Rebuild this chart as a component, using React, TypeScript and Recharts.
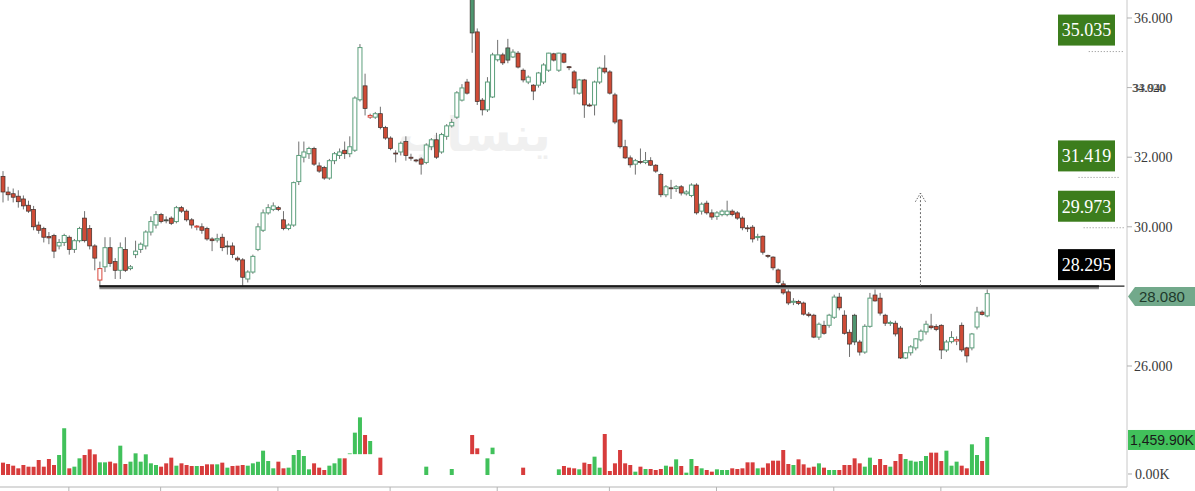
import React from "react";
import { Bar, Cell, ComposedChart, ReferenceLine, XAxis, YAxis } from "recharts";

// OHLC, one entry per session
const opens = [
  31.45, 31.0, 30.95, 30.88, 30.8, 30.62, 30.5, 30.05, 29.95, 29.72,
  29.75, 29.45, 29.55, 29.7, 29.35, 29.6, 30.25, 29.95, 29.45, 28.47,
  28.85, 29.4, 29.0, 28.75, 29.35, 28.8, 29.2, 29.35, 29.45, 29.85,
  30.05, 30.35, 30.2, 30.25, 30.15, 30.55, 30.45, 30.2, 30.0, 30.0,
  29.95, 29.65, 29.62, 29.7, 29.45, 29.45, 29.1, 29.05, 28.5, 28.7,
  29.35, 29.9, 30.4, 30.5, 30.55, 30.2, 29.95, 30.05, 31.3, 32.0,
  32.1, 32.25, 31.75, 31.7, 31.4, 31.9, 32.05, 32.2, 32.1, 32.2,
  33.65, 34.05, 33.15, 33.15, 33.25, 32.85, 32.55, 32.12, 32.15, 32.45,
  32.0, 31.92, 31.95, 31.85, 32.3, 32.5, 32.15, 32.6, 32.9, 33.15,
  33.64, 34.16, 36.7, 35.6, 33.64, 33.36, 33.73, 34.8, 34.94, 35.14,
  34.88, 34.99, 34.5, 34.16, 34.07, 34.07, 34.16, 34.5, 34.97, 34.5,
  34.97, 34.6, 34.45, 33.84, 34.22, 33.5, 33.5, 34.16, 34.56, 34.45,
  33.79, 33.07, 32.3, 31.98, 31.8, 31.88, 31.85, 31.9, 31.77, 31.5,
  30.92, 31.12, 31.1, 31.15, 30.95, 30.9, 31.2, 30.45, 30.68, 30.4,
  30.3, 30.35, 30.35, 30.45, 30.4, 30.25, 29.97, 29.99, 29.7, 29.73,
  29.18, 29.13, 28.76, 28.36, 28.13, 27.83, 27.85, 27.81, 27.49, 27.46,
  26.83, 27.17, 27.17, 27.4, 27.98, 27.46, 26.97, 27.46, 26.69, 26.4,
  27.14, 28.04, 27.95, 27.46, 27.23, 27.23, 27.09, 26.23, 26.38, 26.52,
  26.75, 26.98, 27.15, 27.14, 27.17, 26.46, 26.7, 26.72, 27.17, 26.52,
  26.52, 27.12, 27.55, 27.44,
];
const highs = [
  31.6, 31.15, 31.1, 31.05, 30.9, 30.75, 30.6, 30.15, 30.0, 29.85,
  29.8, 29.65, 29.8, 29.75, 29.65, 30.0, 30.45, 30.05, 29.5, 29.0,
  29.7, 29.7, 29.1, 29.55, 29.7, 28.9, 29.6, 29.55, 29.9, 30.3,
  30.45, 30.4, 30.3, 30.3, 30.6, 30.6, 30.5, 30.25, 30.05, 30.1,
  30.0, 29.7, 29.8, 29.8, 29.6, 29.55, 29.15, 29.1, 28.75, 29.2,
  30.1, 30.5, 30.65, 30.7, 30.6, 30.45, 30.1, 31.3, 32.45, 32.45,
  32.3, 32.3, 31.85, 31.75, 31.95, 32.15, 32.25, 32.45, 32.6, 33.75,
  35.25, 34.4, 33.25, 33.3, 33.45, 32.9, 32.6, 32.2, 32.45, 32.6,
  32.1, 31.95, 32.0, 32.4, 32.55, 32.7, 32.7, 32.95, 33.1, 33.9,
  34.1, 34.25, 36.8, 35.7, 33.7, 34.3, 35.0, 35.37, 35.0, 35.4,
  35.1, 35.05, 34.55, 34.35, 34.1, 34.45, 34.7, 35.0, 35.0, 35.0,
  35.0, 34.62, 34.5, 34.25, 34.25, 33.55, 34.2, 34.6, 34.93, 34.5,
  33.85, 33.1, 32.5, 32.05, 31.95, 32.25, 32.15, 32.0, 31.8, 31.55,
  31.2, 31.35, 31.2, 31.2, 31.05, 31.25, 31.25, 30.7, 30.75, 30.5,
  30.45, 30.5, 30.75, 30.5, 30.45, 30.3, 30.05, 30.05, 29.8, 29.75,
  29.2, 29.15, 28.8, 28.45, 28.2, 27.95, 27.9, 27.85, 27.55, 27.5,
  27.25, 27.3, 27.5, 28.05, 28.1, 27.6, 27.05, 27.5, 26.75, 27.2,
  28.1, 28.2, 28.1, 27.5, 27.3, 27.3, 27.15, 26.4, 26.6, 26.8,
  27.05, 27.3, 27.5, 27.2, 27.2, 26.75, 27.0, 26.85, 27.25, 26.55,
  26.95, 27.7, 27.6, 28.2,
];
const lows = [
  30.7, 30.75, 30.7, 30.55, 30.5, 30.4, 29.9, 29.8, 29.55, 29.5,
  29.1, 29.35, 29.45, 29.2, 29.25, 29.55, 29.55, 29.35, 28.75, 28.3,
  28.7, 28.85, 28.5, 28.5, 28.7, 28.75, 29.1, 29.25, 29.35, 29.75,
  29.95, 30.1, 30.1, 30.05, 30.1, 30.4, 30.15, 29.95, 29.9, 29.8,
  29.6, 29.3, 29.55, 29.3, 29.2, 29.1, 29.0, 28.25, 28.4, 28.65,
  29.3, 29.85, 30.35, 30.45, 30.45, 29.9, 29.9, 30.0, 31.2, 31.85,
  31.95, 31.75, 31.55, 31.35, 31.35, 31.8, 31.95, 31.95, 32.0, 32.15,
  33.6, 33.2, 33.1, 33.1, 32.8, 32.5, 32.2, 31.85, 32.05, 31.9,
  31.9, 31.85, 31.5, 31.8, 32.2, 31.95, 32.1, 32.5, 32.85, 33.1,
  33.6, 33.8, 35.0, 33.5, 33.2, 33.3, 33.7, 34.75, 34.65, 34.7,
  34.85, 34.55, 34.15, 34.1, 33.64, 34.0, 34.1, 34.45, 34.75, 34.45,
  34.7, 34.5, 33.8, 33.8, 33.13, 33.45, 33.2, 34.1, 34.4, 33.8,
  32.95, 32.25, 31.95, 31.7, 31.5, 31.8, 31.8, 31.75, 31.55, 30.85,
  30.85, 30.8, 31.0, 30.9, 30.9, 30.85, 30.35, 30.35, 30.35, 30.2,
  30.2, 30.3, 30.3, 30.3, 30.2, 29.9, 29.85, 29.55, 29.6, 29.2,
  29.1, 28.75, 28.35, 28.05, 27.75, 27.75, 27.75, 27.45, 27.4, 26.8,
  26.75, 26.9, 27.1, 27.35, 27.6, 26.9, 26.26, 26.6, 26.3, 26.35,
  27.1, 27.85, 27.45, 27.15, 27.15, 26.85, 26.2, 26.2, 26.3, 26.45,
  26.7, 26.9, 27.05, 27.0, 26.2, 26.4, 26.65, 26.6, 26.4, 26.1,
  26.45, 27.05, 27.45, 27.4,
];
const closes = [
  31.0, 30.92, 30.85, 30.72, 30.6, 30.45, 30.0, 29.9, 29.7, 29.68,
  29.3, 29.55, 29.75, 29.35, 29.6, 29.95, 29.6, 29.45, 29.1, 28.8,
  29.4, 28.95, 28.75, 29.4, 28.75, 28.85, 29.3, 29.5, 29.85, 30.15,
  30.35, 30.15, 30.17, 30.1, 30.55, 30.45, 30.2, 30.05, 30.02, 29.9,
  29.65, 29.6, 29.66, 29.4, 29.45, 29.2, 29.05, 28.55, 28.7, 29.15,
  30.0, 30.4, 30.55, 30.6, 30.5, 29.95, 30.05, 31.27, 32.05, 32.15,
  32.25, 31.8, 31.6, 31.4, 31.9, 32.1, 32.15, 32.1, 32.3, 33.7,
  35.15, 33.4, 33.2, 33.25, 32.85, 32.55, 32.25, 32.1, 32.4, 32.05,
  31.97, 31.9, 31.8, 32.35, 32.5, 32.0, 32.65, 32.9, 33.0, 33.85,
  33.99, 33.84, 35.57, 33.6, 33.36, 34.16, 34.94, 34.94, 34.71, 34.79,
  35.02, 34.59, 34.22, 34.3, 33.9, 34.42, 34.65, 34.99, 34.79, 34.99,
  34.73, 34.59, 33.99, 34.22, 33.5, 33.48, 34.16, 34.56, 34.45, 33.84,
  33.01, 32.3, 31.98, 31.78, 31.9, 31.86, 31.9, 31.77, 31.6, 30.92,
  31.15, 31.1, 31.15, 30.97, 31.0, 31.2, 30.4, 30.65, 30.4, 30.28,
  30.4, 30.45, 30.45, 30.35, 30.25, 29.97, 29.95, 29.65, 29.72, 29.27,
  29.16, 28.82, 28.4, 28.1, 27.81, 27.86, 27.8, 27.49, 27.45, 26.83,
  27.2, 26.94, 27.46, 27.98, 27.67, 26.94, 26.63, 26.69, 26.4, 27.14,
  27.95, 27.87, 27.52, 27.23, 27.25, 26.92, 26.23, 26.38, 26.55, 26.78,
  27.0, 27.2, 27.1, 27.05, 26.46, 26.69, 26.82, 26.76, 26.46, 26.29,
  26.92, 27.55, 27.48, 28.08,
];

// volume in thousands (null = no bar drawn)
const volumes: (number | null)[] = [
  474, 422, 358, 256, 384, 320, 320, 576, 320, 614,
  384, 768, 1792, 256, 320, 640, 768, 986, 794, 486,
  486, 512, 448, 1126, 422, 512, 832, 512, 794, 448,
  384, 320, 448, 666, 358, 448, 384, 346, 346, 346,
  410, 410, 410, 474, 282, 346, 358, 384, 358, 448,
  512, 934, 538, 256, 512, 256, 282, 768, 960, 730,
  218, 448, 282, 192, 358, 448, 640, 640, 830, 1626,
  2214, 1536, 1306, null, 666, null, null, null, null, null,
  null, null, null, 320, null, null, null, null, 230, null,
  null, null, 1536, 1024, null, 640, 1050, null, null, null,
  null, null, 282, null, null, null, null, null, null, 218,
  346, 282, 256, 218, 474, 422, 704, 282, 1574, 154,
  448, 960, 448, 384, 128, 320, 230, 230, 192, 230,
  358, 320, 602, 346, 90, 614, 346, 256, 192, 128,
  218, 192, 192, 256, 230, 256, 486, 486, 256, 282,
  448, 550, 550, 960, 422, 384, 602, 410, 282, 320,
  448, 282, 192, 192, 192, 384, 384, 640, 448, 320,
  666, 384, 614, 384, 320, 538, 806, 614, 550, 512,
  538, 730, 858, 858, 538, 934, 358, 512, 358, 256,
  1178, 768, 538, 1459.9,
];
// bars that float above the baseline in the picture
const floatingVol = [68, 69, 70, 71, 72, 92, 93, 96];
const floatBase = 800;

const slots = 221;
const priceTicks = [26, 30, 32, 34, 36];
const dateTickSlots = [13, 31, 54, 76, 97, 119, 140, 163, 184];

const targets = [35.035, 31.419, 29.973];
const targetSpans = [
  [213, 220],
  [211, 219],
  [212, 220],
];
const support = 28.295;
const supportFrom = 19;
const supportTo = 215;
const lastPrice = 28.08;
const lastVolume = 1459.9;
const arrowSlot = 180;
const arrowTop = 30.97;

const GREEN_LINE = "#5c9f7c";
const GREEN_FILL = "#4f9670";
const RED_FILL = "#cf4b36";
const RED_LINE = "#d9463a";
const BODY_EDGE = "#3b2f2c";
const WICK = "#707070";
const VOL_GREEN = "#41c15b";
const VOL_RED = "#d73c3c";
const TAG_GREEN = "#3c7d1d";

const rows = Array.from({ length: slots }, (_, i) => {
  if (i >= closes.length) return { i, hl: null, vol: null };
  const prev = i > 0 ? closes[i - 1] : opens[i];
  const v = volumes[i];
  return {
    i,
    o: opens[i],
    h: highs[i],
    l: lows[i],
    c: closes[i],
    hl: [lows[i], highs[i]],
    up: closes[i] >= prev,
    vol: v == null ? null : [floatingVol.includes(i) ? floatBase : 0, v],
  };
});

function Candle(props: any) {
  const { x, y, width, height, payload } = props;
  if (!payload || payload.h == null) return null;
  const top = Math.min(y, y + height);
  const bot = Math.max(y, y + height);
  const k = (bot - top) / (payload.h - payload.l);
  const yo = top + (payload.h - payload.o) * k;
  const yc = top + (payload.h - payload.c) * k;
  const cx = x + width / 2;
  const hollow = payload.c > payload.o;
  const col = payload.up ? GREEN_LINE : RED_LINE;
  const fill = hollow ? "#ffffff" : payload.up ? GREEN_FILL : RED_FILL;
  const by = Math.min(yo, yc);
  const bh = Math.max(Math.abs(yo - yc), 1);
  return (
    <g>
      <line x1={cx} x2={cx} y1={top} y2={bot} stroke={WICK} strokeWidth={1} />
      <rect
        x={cx - 2}
        y={by}
        width={4}
        height={bh}
        fill={fill}
        stroke={hollow ? col : BODY_EDGE}
        strokeWidth={hollow ? 1 : 0.7}
      />
    </g>
  );
}

function PriceTick(props: any) {
  const { x, y, payload } = props;
  const style = { fontFamily: "'Liberation Serif', serif", fill: "#3a3a3a" };
  if (payload.value === 34) {
    return (
      <g>
        <text x={x - 2} y={y} dy="0.35em" fontSize={12} style={style}>34.020</text>
        <text x={x - 1} y={y} dy="0.35em" fontSize={12} style={style}>33.940</text>
      </g>
    );
  }
  return (
    <text x={x} y={y} dy="0.35em" fontSize={14} style={style}>
      {payload.value.toFixed(3)}
    </text>
  );
}

function Tag(props: any) {
  const { viewBox, text, fill } = props;
  const right = viewBox.x + viewBox.width;
  const ly = viewBox.y;
  return (
    <g>
      <rect x={right - 69} y={ly - 37} width={57} height={31} fill={fill} />
      <text
        x={right - 40.5}
        y={ly - 21.5}
        dy="0.35em"
        textAnchor="middle"
        fontSize={18}
        fill="#ffffff"
        style={{ fontFamily: "'Liberation Serif', serif" }}
      >
        {text}
      </text>
    </g>
  );
}

function LastTag(props: any) {
  const { viewBox } = props;
  const r = viewBox.x + viewBox.width;
  const cy = viewBox.y + 3;
  const pts = `${r + 1},${cy} ${r + 8},${cy - 9.5} ${r + 68},${cy - 9.5} ${r + 68},${cy + 9.5} ${r + 8},${cy + 9.5}`;
  return (
    <g>
      <polygon points={pts} fill="#72a98b" />
      <text x={r + 12} y={cy} dy="0.35em" fontSize={15} fill="#1e3a2b" style={{ fontFamily: "'Liberation Sans', Arial, sans-serif" }}>
        {lastPrice.toFixed(3)}
      </text>
    </g>
  );
}

function VolTag(props: any) {
  const { viewBox } = props;
  const r = viewBox.x + viewBox.width;
  const cy = viewBox.y + 3;
  return (
    <g>
      <rect x={r + 1} y={cy - 10} width={68} height={20} fill={VOL_GREEN} />
      <text x={r + 3} y={cy} dy="0.35em" fontSize={14} fill="#1a1a1a" style={{ fontFamily: "'Liberation Sans', Arial, sans-serif" }}>
        {lastVolume.toLocaleString("en-US", { minimumFractionDigits: 2 })}K
      </text>
    </g>
  );
}

function ZeroTag(props: any) {
  const { viewBox } = props;
  const r = viewBox.x + viewBox.width;
  const cy = viewBox.y - 1;
  return (
    <g>
      <line x1={r + 1} x2={r + 5} y1={cy} y2={cy} stroke="#aaa" />
      <text x={r + 8} y={cy} dy="0.35em" fontSize={14} fill="#3a3a3a" style={{ fontFamily: "'Liberation Serif', serif" }}>
        0.00K
      </text>
    </g>
  );
}

export default function App() {
  return (
    <div style={{ position: "absolute", left: 0, top: 0, width: 1195, height: 491, background: "#fff", overflow: "hidden" }}>
      <div
        dir="rtl"
        style={{
          position: "absolute",
          left: 398,
          top: 100,
          fontSize: 48,
          fontWeight: 700,
          color: "#f0f0f0",
          fontFamily: "'Noto Sans', 'DejaVu Sans', sans-serif",
        }}
      >
        ينساب
      </div>
      <div style={{ position: "absolute", left: 0, top: 0 }}>
        <ComposedChart width={1195} height={491} data={rows} margin={{ top: 0, right: 0, left: 0, bottom: 0 }}>
          <XAxis
            xAxisId="px"
            dataKey="i"
            type="category"
            ticks={dateTickSlots}
            interval={0}
            height={4}
            tickSize={4}
            axisLine={{ stroke: "#b5b5b5" }}
            tickLine={{ stroke: "#b5b5b5" }}
            tick={() => <g />}
          />
          <XAxis xAxisId="vx" dataKey="i" type="category" hide />
          <YAxis
            yAxisId="p"
            orientation="right"
            width={68}
            domain={[22.523, 36.517]}
            allowDataOverflow
            ticks={priceTicks}
            interval={0}
            tickSize={5}
            axisLine={{ stroke: "#c8c8c8" }}
            tickLine={{ stroke: "#b0b0b0" }}
            tick={<PriceTick />}
          />
          <YAxis yAxisId="vol" hide domain={[-461, 18240]} allowDataOverflow />

          <Bar xAxisId="vx" yAxisId="vol" dataKey="vol" barSize={4} isAnimationActive={false}>
            {rows.map((r: any) => (
              <Cell key={r.i} fill={r.c >= r.o ? VOL_GREEN : VOL_RED} />
            ))}
          </Bar>

          <ReferenceLine
            xAxisId="px"
            yAxisId="p"
            segment={[{ x: supportFrom, y: support }, { x: 220, y: support }]}
            stroke="#222"
            strokeWidth={1.2}
          />
          <ReferenceLine
            xAxisId="px"
            yAxisId="p"
            segment={[{ x: supportFrom, y: support - 0.06 }, { x: supportTo, y: support - 0.06 }]}
            stroke="#8c8c8c"
            strokeWidth={2.2}
          />
          <ReferenceLine
            xAxisId="px"
            yAxisId="p"
            segment={[{ x: supportFrom, y: support }, { x: supportTo, y: support }]}
            stroke="#1a1a1a"
            strokeWidth={2}
          />

          <Bar xAxisId="px" yAxisId="p" dataKey="hl" barSize={4} isAnimationActive={false} shape={(p: any) => <Candle {...p} />} />

          {targets.map((v, k) => (
            <ReferenceLine
              key={`d${v}`}
              xAxisId="px"
              yAxisId="p"
              segment={[{ x: targetSpans[k][0], y: v }, { x: targetSpans[k][1], y: v }]}
              stroke="#8a8a8a"
              strokeDasharray="1 2"
            />
          ))}
          {targets.map((v) => (
            <ReferenceLine
              key={`t${v}`}
              xAxisId="px"
              yAxisId="p"
              y={v}
              stroke="none"
              label={<Tag text={v.toFixed(3)} fill={TAG_GREEN} />}
            />
          ))}
          <ReferenceLine
            xAxisId="px"
            yAxisId="p"
            y={support}
            stroke="none"
            label={<Tag text={support.toFixed(3)} fill="#000000" />}
          />

          <ReferenceLine
            xAxisId="px"
            yAxisId="p"
            segment={[{ x: arrowSlot, y: support }, { x: arrowSlot, y: arrowTop }]}
            stroke="#6a6a6a"
            strokeDasharray="2 2"
          />
          <ReferenceLine
            xAxisId="px"
            yAxisId="p"
            segment={[{ x: arrowSlot - 1, y: arrowTop - 0.25 }, { x: arrowSlot, y: arrowTop }]}
            stroke="#6a6a6a"
            strokeDasharray="1.5 1.5"
          />
          <ReferenceLine
            xAxisId="px"
            yAxisId="p"
            segment={[{ x: arrowSlot + 1, y: arrowTop - 0.25 }, { x: arrowSlot, y: arrowTop }]}
            stroke="#6a6a6a"
            strokeDasharray="1.5 1.5"
          />

          <ReferenceLine xAxisId="px" yAxisId="p" y={lastPrice} stroke="none" label={<LastTag />} />
          <ReferenceLine xAxisId="px" yAxisId="vol" y={lastVolume} stroke="none" label={<VolTag />} />
          <ReferenceLine xAxisId="px" yAxisId="vol" y={0} stroke="none" label={<ZeroTag />} />
        </ComposedChart>
      </div>
    </div>
  );
}
